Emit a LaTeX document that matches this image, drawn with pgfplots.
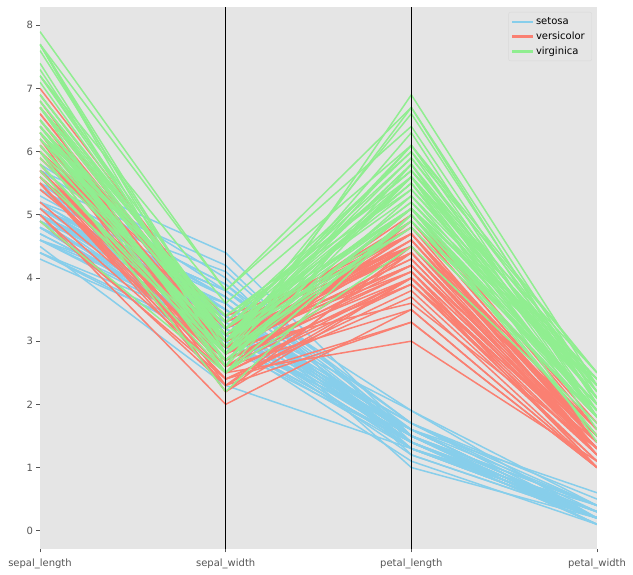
\documentclass[border=0pt]{standalone}
\usepackage{fontspec}
\setmainfont{DejaVu Sans}
\usepackage{pgfplots}
\pgfplotsset{compat=1.18}
\definecolor{bggray}{HTML}{E5E5E5}
\definecolor{tickgray}{HTML}{555555}
\definecolor{irisSetosa}{HTML}{87CEEB}
\definecolor{irisVersi}{HTML}{FA8072}
\definecolor{irisVirgi}{HTML}{90EE90}
\pgfplotsset{irisline/.style={line width=1.5pt,line join=round}}
\newcommand\irS[4]{\addplot[draw=irisSetosa,irisline,forget plot] coordinates {(0,#1)(1,#2)(2,#3)(3,#4)};}
\newcommand\irV[4]{\addplot[draw=irisVersi,irisline,forget plot] coordinates {(0,#1)(1,#2)(2,#3)(3,#4)};}
\newcommand\irG[4]{\addplot[draw=irisVirgi,irisline,forget plot] coordinates {(0,#1)(1,#2)(2,#3)(3,#4)};}
\begin{document}
\begin{tikzpicture}
\path[use as bounding box] (-40pt,-26pt) rectangle (593pt,549pt);
\begin{axis}[
  scale only axis, width=557pt, height=542pt,
  xmin=0, xmax=3, ymin=-0.29, ymax=8.29,
  axis background/.style={fill=bggray},
  axis line style={draw=none},
  xtick={0,1,2,3},
  xticklabels={sepal\_length,sepal\_width,petal\_length,petal\_width},
  ytick={0,1,2,3,4,5,6,7,8},
  tick pos=left,
  tick align=outside,
  major tick length=3.5pt,
  tick style={tickgray, line width=0.8pt},
  ticklabel style={font=\fontsize{10}{12}\selectfont, text=tickgray},
  xticklabel style={yshift=-3pt},
  /pgf/number format/assume math mode=true,
  legend cell align=left,
  legend style={at={(1,1)}, anchor=north east, xshift=-5pt, yshift=-5pt,
    fill=bggray, draw=black!15, rounded corners=2pt,
    font=\fontsize{10}{12}\selectfont, row sep=2pt, inner sep=3pt,
    nodes={inner xsep=4pt}},
]
\addlegendimage{legend image code/.code={\fill[irisSetosa,rounded corners=0pt] (0pt,-0.75pt) rectangle (20pt,0.75pt);}}
\addlegendentry{setosa}
\addlegendimage{legend image code/.code={\fill[irisVersi,rounded corners=0pt] (0pt,-0.75pt) rectangle (20pt,0.75pt);}}
\addlegendentry{versicolor}
\addlegendimage{legend image code/.code={\fill[irisVirgi,rounded corners=0pt] (0pt,-0.75pt) rectangle (20pt,0.75pt);}}
\addlegendentry{virginica}
% setosa
\irS{5.1}{3.5}{1.4}{0.2}
\irS{4.9}{3.0}{1.4}{0.2}
\irS{4.7}{3.2}{1.3}{0.2}
\irS{4.6}{3.1}{1.5}{0.2}
\irS{5.0}{3.6}{1.4}{0.2}
\irS{5.4}{3.9}{1.7}{0.4}
\irS{4.6}{3.4}{1.4}{0.3}
\irS{5.0}{3.4}{1.5}{0.2}
\irS{4.4}{2.9}{1.4}{0.2}
\irS{4.9}{3.1}{1.5}{0.1}
\irS{5.4}{3.7}{1.5}{0.2}
\irS{4.8}{3.4}{1.6}{0.2}
\irS{4.8}{3.0}{1.4}{0.1}
\irS{4.3}{3.0}{1.1}{0.1}
\irS{5.8}{4.0}{1.2}{0.2}
\irS{5.7}{4.4}{1.5}{0.4}
\irS{5.4}{3.9}{1.3}{0.4}
\irS{5.1}{3.5}{1.4}{0.3}
\irS{5.7}{3.8}{1.7}{0.3}
\irS{5.1}{3.8}{1.5}{0.3}
\irS{5.4}{3.4}{1.7}{0.2}
\irS{5.1}{3.7}{1.5}{0.4}
\irS{4.6}{3.6}{1.0}{0.2}
\irS{5.1}{3.3}{1.7}{0.5}
\irS{4.8}{3.4}{1.9}{0.2}
\irS{5.0}{3.0}{1.6}{0.2}
\irS{5.0}{3.4}{1.6}{0.4}
\irS{5.2}{3.5}{1.5}{0.2}
\irS{5.2}{3.4}{1.4}{0.2}
\irS{4.7}{3.2}{1.6}{0.2}
\irS{4.8}{3.1}{1.6}{0.2}
\irS{5.4}{3.4}{1.5}{0.4}
\irS{5.2}{4.1}{1.5}{0.1}
\irS{5.5}{4.2}{1.4}{0.2}
\irS{4.9}{3.1}{1.5}{0.2}
\irS{5.0}{3.2}{1.2}{0.2}
\irS{5.5}{3.5}{1.3}{0.2}
\irS{4.9}{3.6}{1.4}{0.1}
\irS{4.4}{3.0}{1.3}{0.2}
\irS{5.1}{3.4}{1.5}{0.2}
\irS{5.0}{3.5}{1.3}{0.3}
\irS{4.5}{2.3}{1.3}{0.3}
\irS{4.4}{3.2}{1.3}{0.2}
\irS{5.0}{3.5}{1.6}{0.6}
\irS{5.1}{3.8}{1.9}{0.4}
\irS{4.8}{3.0}{1.4}{0.3}
\irS{5.1}{3.8}{1.6}{0.2}
\irS{4.6}{3.2}{1.4}{0.2}
\irS{5.3}{3.7}{1.5}{0.2}
\irS{5.0}{3.3}{1.4}{0.2}
% versicolor
\irV{7.0}{3.2}{4.7}{1.4}
\irV{6.4}{3.2}{4.5}{1.5}
\irV{6.9}{3.1}{4.9}{1.5}
\irV{5.5}{2.3}{4.0}{1.3}
\irV{6.5}{2.8}{4.6}{1.5}
\irV{5.7}{2.8}{4.5}{1.3}
\irV{6.3}{3.3}{4.7}{1.6}
\irV{4.9}{2.4}{3.3}{1.0}
\irV{6.6}{2.9}{4.6}{1.3}
\irV{5.2}{2.7}{3.9}{1.4}
\irV{5.0}{2.0}{3.5}{1.0}
\irV{5.9}{3.0}{4.2}{1.5}
\irV{6.0}{2.2}{4.0}{1.0}
\irV{6.1}{2.9}{4.7}{1.4}
\irV{5.6}{2.9}{3.6}{1.3}
\irV{6.7}{3.1}{4.4}{1.4}
\irV{5.6}{3.0}{4.5}{1.5}
\irV{5.8}{2.7}{4.1}{1.0}
\irV{6.2}{2.2}{4.5}{1.5}
\irV{5.6}{2.5}{3.9}{1.1}
\irV{5.9}{3.2}{4.8}{1.8}
\irV{6.1}{2.8}{4.0}{1.3}
\irV{6.3}{2.5}{4.9}{1.5}
\irV{6.1}{2.8}{4.7}{1.2}
\irV{6.4}{2.9}{4.3}{1.3}
\irV{6.6}{3.0}{4.4}{1.4}
\irV{6.8}{2.8}{4.8}{1.4}
\irV{6.7}{3.0}{5.0}{1.7}
\irV{6.0}{2.9}{4.5}{1.5}
\irV{5.7}{2.6}{3.5}{1.0}
\irV{5.5}{2.4}{3.8}{1.1}
\irV{5.5}{2.4}{3.7}{1.0}
\irV{5.8}{2.7}{3.9}{1.2}
\irV{6.0}{2.7}{5.1}{1.6}
\irV{5.4}{3.0}{4.5}{1.5}
\irV{6.0}{3.4}{4.5}{1.6}
\irV{6.7}{3.1}{4.7}{1.5}
\irV{6.3}{2.3}{4.4}{1.3}
\irV{5.6}{3.0}{4.1}{1.3}
\irV{5.5}{2.5}{4.0}{1.3}
\irV{5.5}{2.6}{4.4}{1.2}
\irV{6.1}{3.0}{4.6}{1.4}
\irV{5.8}{2.6}{4.0}{1.2}
\irV{5.0}{2.3}{3.3}{1.0}
\irV{5.6}{2.7}{4.2}{1.3}
\irV{5.7}{3.0}{4.2}{1.2}
\irV{5.7}{2.9}{4.2}{1.3}
\irV{6.2}{2.9}{4.3}{1.3}
\irV{5.1}{2.5}{3.0}{1.1}
\irV{5.7}{2.8}{4.1}{1.3}
% virginica
\irG{6.3}{3.3}{6.0}{2.5}
\irG{5.8}{2.7}{5.1}{1.9}
\irG{7.1}{3.0}{5.9}{2.1}
\irG{6.3}{2.9}{5.6}{1.8}
\irG{6.5}{3.0}{5.8}{2.2}
\irG{7.6}{3.0}{6.6}{2.1}
\irG{4.9}{2.5}{4.5}{1.7}
\irG{7.3}{2.9}{6.3}{1.8}
\irG{6.7}{2.5}{5.8}{1.8}
\irG{7.2}{3.6}{6.1}{2.5}
\irG{6.5}{3.2}{5.1}{2.0}
\irG{6.4}{2.7}{5.3}{1.9}
\irG{6.8}{3.0}{5.5}{2.1}
\irG{5.7}{2.5}{5.0}{2.0}
\irG{5.8}{2.8}{5.1}{2.4}
\irG{6.4}{3.2}{5.3}{2.3}
\irG{6.5}{3.0}{5.5}{1.8}
\irG{7.7}{3.8}{6.7}{2.2}
\irG{7.7}{2.6}{6.9}{2.3}
\irG{6.0}{2.2}{5.0}{1.5}
\irG{6.9}{3.2}{5.7}{2.3}
\irG{5.6}{2.8}{4.9}{2.0}
\irG{7.7}{2.8}{6.7}{2.0}
\irG{6.3}{2.7}{4.9}{1.8}
\irG{6.7}{3.3}{5.7}{2.1}
\irG{7.2}{3.2}{6.0}{1.8}
\irG{6.2}{2.8}{4.8}{1.8}
\irG{6.1}{3.0}{4.9}{1.8}
\irG{6.4}{2.8}{5.6}{2.1}
\irG{7.2}{3.0}{5.8}{1.6}
\irG{7.4}{2.8}{6.1}{1.9}
\irG{7.9}{3.8}{6.4}{2.0}
\irG{6.4}{2.8}{5.6}{2.2}
\irG{6.3}{2.8}{5.1}{1.5}
\irG{6.1}{2.6}{5.6}{1.4}
\irG{7.7}{3.0}{6.1}{2.3}
\irG{6.3}{3.4}{5.6}{2.4}
\irG{6.4}{3.1}{5.5}{1.8}
\irG{6.0}{3.0}{4.8}{1.8}
\irG{6.9}{3.1}{5.4}{2.1}
\irG{6.7}{3.1}{5.6}{2.4}
\irG{6.9}{3.1}{5.1}{2.3}
\irG{5.8}{2.7}{5.1}{1.9}
\irG{6.8}{3.2}{5.9}{2.3}
\irG{6.7}{3.3}{5.7}{2.5}
\irG{6.7}{3.0}{5.2}{2.3}
\irG{6.3}{2.5}{5.0}{1.9}
\irG{6.5}{3.0}{5.2}{2.0}
\irG{6.2}{3.4}{5.4}{2.3}
\irG{5.9}{3.0}{5.1}{1.8}
% axis verticals
\addplot[black, line width=1pt, forget plot] coordinates {(1,-0.29)(1,8.29)};
\addplot[black, line width=1pt, forget plot] coordinates {(2,-0.29)(2,8.29)};
\end{axis}
\end{tikzpicture}
\end{document}
